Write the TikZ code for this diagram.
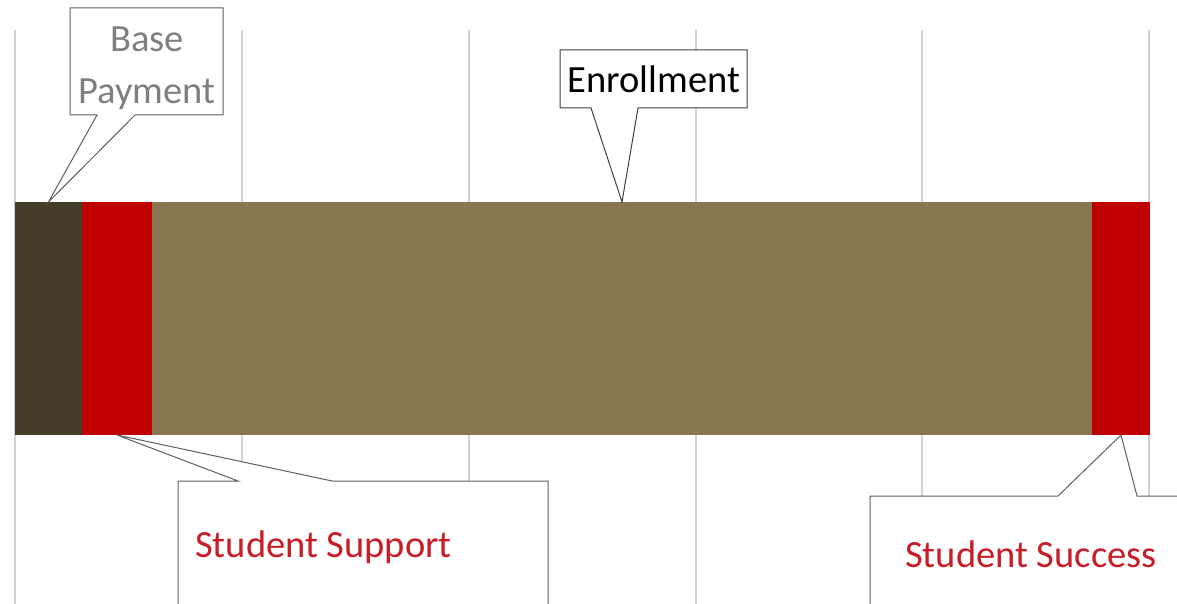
\documentclass[tikz,border=0pt]{standalone}
\usepackage{fontspec}
\setmainfont{Carlito}
\usetikzlibrary{positioning,calc}
\definecolor{baseclr}{RGB}{69,60,41}
\definecolor{suppclr}{RGB}{192,0,0}
\definecolor{enrolclr}{RGB}{135,120,82}
\definecolor{gridclr}{RGB}{210,210,210}
\definecolor{lblred}{RGB}{200,28,38}
\definecolor{lblgrey}{RGB}{127,127,127}
\definecolor{edgeclr}{RGB}{95,95,95}

\begin{document}
\begin{tikzpicture}[x=1pt,y=-1pt,semithick]
  \tikzstyle{seg}=[rectangle,inner sep=0pt,outer sep=0pt,minimum height=233pt]
  \tikzstyle{grid}=[gridclr,line width=1.3pt]
  \tikzstyle{callbox}=[fill=white,draw=edgeclr,line width=1pt,line join=miter]
  \tikzstyle{lbl}=[inner sep=0pt,font=\fontsize{38.5}{52}\selectfont]

  \clip (0,0) rectangle (1177,604);

  % vertical grid
  \foreach \gx in {15,242,469,696,922,1149}
    \draw[grid] (\gx,30) -- (\gx,604);

  % the stacked bar
  \node[seg,fill=baseclr,minimum width=67pt,anchor=north west] (base) at (15,202) {};
  \node[seg,fill=suppclr,minimum width=70pt]  (supp)  [right=0pt of base]  {};
  \node[seg,fill=enrolclr,minimum width=940pt] (enrol) [right=0pt of supp]  {};
  \node[seg,fill=suppclr,minimum width=58pt]  (succ)  [right=0pt of enrol] {};

  % callouts
  \coordinate (bpNW) at (70,8);
  \coordinate (bpSE) at (223,115);
  \draw[callbox] (bpNW) -| (bpSE) -- ($(bpSE)+(-88,0)$) -- (base.north)
        -- ($(bpSE)+(-126,0)$) -| (bpNW) -- cycle;
  \node[lbl,text=lblgrey,align=center] (bpay) at (147,68) {Base\\Payment};

  \coordinate (enNW) at (560,50);
  \coordinate (enSE) at (747,108);
  \draw[callbox,draw=black!75] (enNW) -| (enSE) -- ($(enSE)+(-109,0)$) -- (enrol.north)
        -- ($(enSE)+(-156,0)$) -| (enNW) -- cycle;
  \node[lbl,anchor=base] (enrl) at (654,93) {Enrollment};

  \coordinate (ssNW) at (178,481);
  \coordinate (ssSE) at (548,620);
  \draw[callbox] (ssNW) -- ($(ssNW)+(60,0)$) -- (supp.south) -- ($(ssNW)+(154,0)$)
        -| (ssSE) -| (ssNW) -- cycle;
  \node[lbl,text=lblred,anchor=base west] (ssup) at (195,557) {Student Support};

  \coordinate (scNW) at (870,496);
  \coordinate (scSE) at (1200,620);
  \draw[callbox] (scNW) -- ($(scNW)+(188,0)$) -- (succ.south) -- ($(scNW)+(267,0)$)
        -| (scSE) -| (scNW) -- cycle;
  \node[lbl,text=lblred,anchor=base west] (ssuc) at (905,567) {Student Success};
\end{tikzpicture}
\end{document}
